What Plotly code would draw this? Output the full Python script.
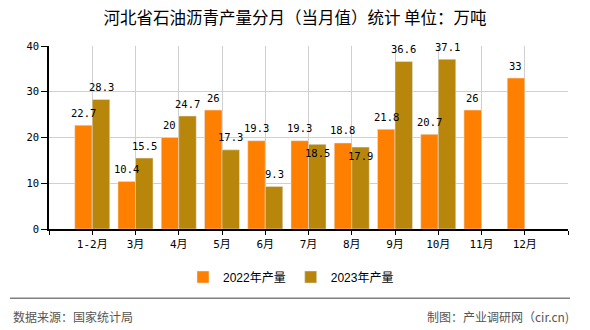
import plotly.graph_objects as go

categories = ["1-2月", "3月", "4月", "5月", "6月", "7月", "8月", "9月", "10月", "11月", "12月"]
values_2022 = [22.7, 10.4, 20, 26, 19.3, 19.3, 18.8, 21.8, 20.7, 26, 33]
values_2023 = [28.3, 15.5, 24.7, 17.3, 9.3, 18.5, 17.9, 36.6, 37.1, None, None]
series_names = ["2022年产量", "2023年产量"]
y_ticks = [0, 10, 20, 30, 40]

title_text = "河北省石油沥青产量分月（当月值）统计 单位：万吨"
source_text = "数据来源：国家统计局"
credit_text = "制图：产业调研网（cir.cn)"

C22 = "#FF8000"
C23 = "#B8860B"
MONO = "DejaVu Sans Mono, Noto Sans CJK SC"

W, H = 590, 330
L, R, T, B = 49, 22, 46, 101
plot_h = H - T - B
plot_w = W - L - R
BARGAP = 0.19

def fmt(v):
    return "%g" % v

x_idx = list(range(len(categories)))

fig = go.Figure()
fig.add_trace(go.Bar(x=x_idx, y=values_2022, name=series_names[0], marker_color=C22))
fig.add_trace(go.Bar(x=x_idx, y=values_2023, name=series_names[1], marker_color=C23))

# value labels above each bar; a 2023 label that would collide with the
# 2022 label next to it is moved just inside the top of its bar
half = (1 - BARGAP) / 4
labels = []
for i, (a, b) in enumerate(zip(values_2022, values_2023)):
    if a is not None:
        labels.append(dict(x=i - half, y=a, text=fmt(a), yshift=12.5))
    if b is not None:
        inside = a is not None and abs(a - b) < 2 and b < a
        labels.append(dict(x=i + half, y=b, text=fmt(b), yshift=-8.5 if inside else 12.5))
label_annotations = [
    dict(xref="x", yref="y", showarrow=False, xanchor="center", yanchor="middle",
         font=dict(family=MONO, size=10.5, color="#000"), **d)
    for d in labels
]

def py(px):
    return (H - B - px) / plot_h

def pxx(px):
    return (px - L) / plot_w

fig.update_layout(
    width=W, height=H,
    margin=dict(l=L, r=R, t=T, b=B, autoexpand=False),
    paper_bgcolor="white", plot_bgcolor="white",
    barmode="group", bargap=BARGAP, bargroupgap=0,
    title=dict(text=title_text, x=0.5, xref="container", xanchor="center",
               y=1 - 18 / H, yref="container", yanchor="middle",
               font=dict(family="Noto Sans CJK SC", size=16.5, color="#000")),
    xaxis=dict(
        range=[-1, len(categories)],
        tickvals=list(range(-1, len(categories) + 1)),
        ticktext=[""] + categories + [""],
        showgrid=True, gridcolor="#D0D0D0", gridwidth=1,
        showline=True, linecolor="#000", linewidth=1.5,
        ticks="outside", ticklen=4, tickcolor="#000",
        tickfont=dict(family=MONO, size=11, color="#000"),
        zeroline=False, fixedrange=True,
    ),
    yaxis=dict(
        range=[0, 40], tickvals=y_ticks,
        showgrid=True, gridcolor="#D0D0D0", gridwidth=1,
        showline=True, linecolor="#000", linewidth=1.5,
        ticks="outside", ticklen=6, tickcolor="#000",
        tickfont=dict(family=MONO, size=10.5, color="#000"),
        zeroline=False, fixedrange=True,
    ),
    showlegend=True,
    legend=dict(orientation="h", x=pxx(291), xanchor="center",
                y=py(277), yanchor="middle",
                font=dict(family="Liberation Sans, Noto Sans CJK SC", size=12, color="#000"),
                itemwidth=30, bgcolor="rgba(0,0,0,0)"),
    shapes=[dict(type="line", xref="paper", yref="paper",
                 x0=pxx(10), x1=pxx(570), y0=py(298.3), y1=py(298.3),
                 line=dict(color="#808080", width=1.5))],
    annotations=label_annotations + [
        dict(text=source_text, xref="paper", yref="paper", x=pxx(11), y=py(316.5),
             xanchor="left", yanchor="middle", showarrow=False,
             font=dict(family="Noto Sans CJK SC", size=12, color="#555")),
        dict(text=credit_text, xref="paper", yref="paper", x=pxx(571), y=py(316.5),
             xanchor="right", yanchor="middle", showarrow=False,
             font=dict(family="Noto Sans CJK SC", size=12, color="#555")),
    ],
)

fig.write_html("out.html")
